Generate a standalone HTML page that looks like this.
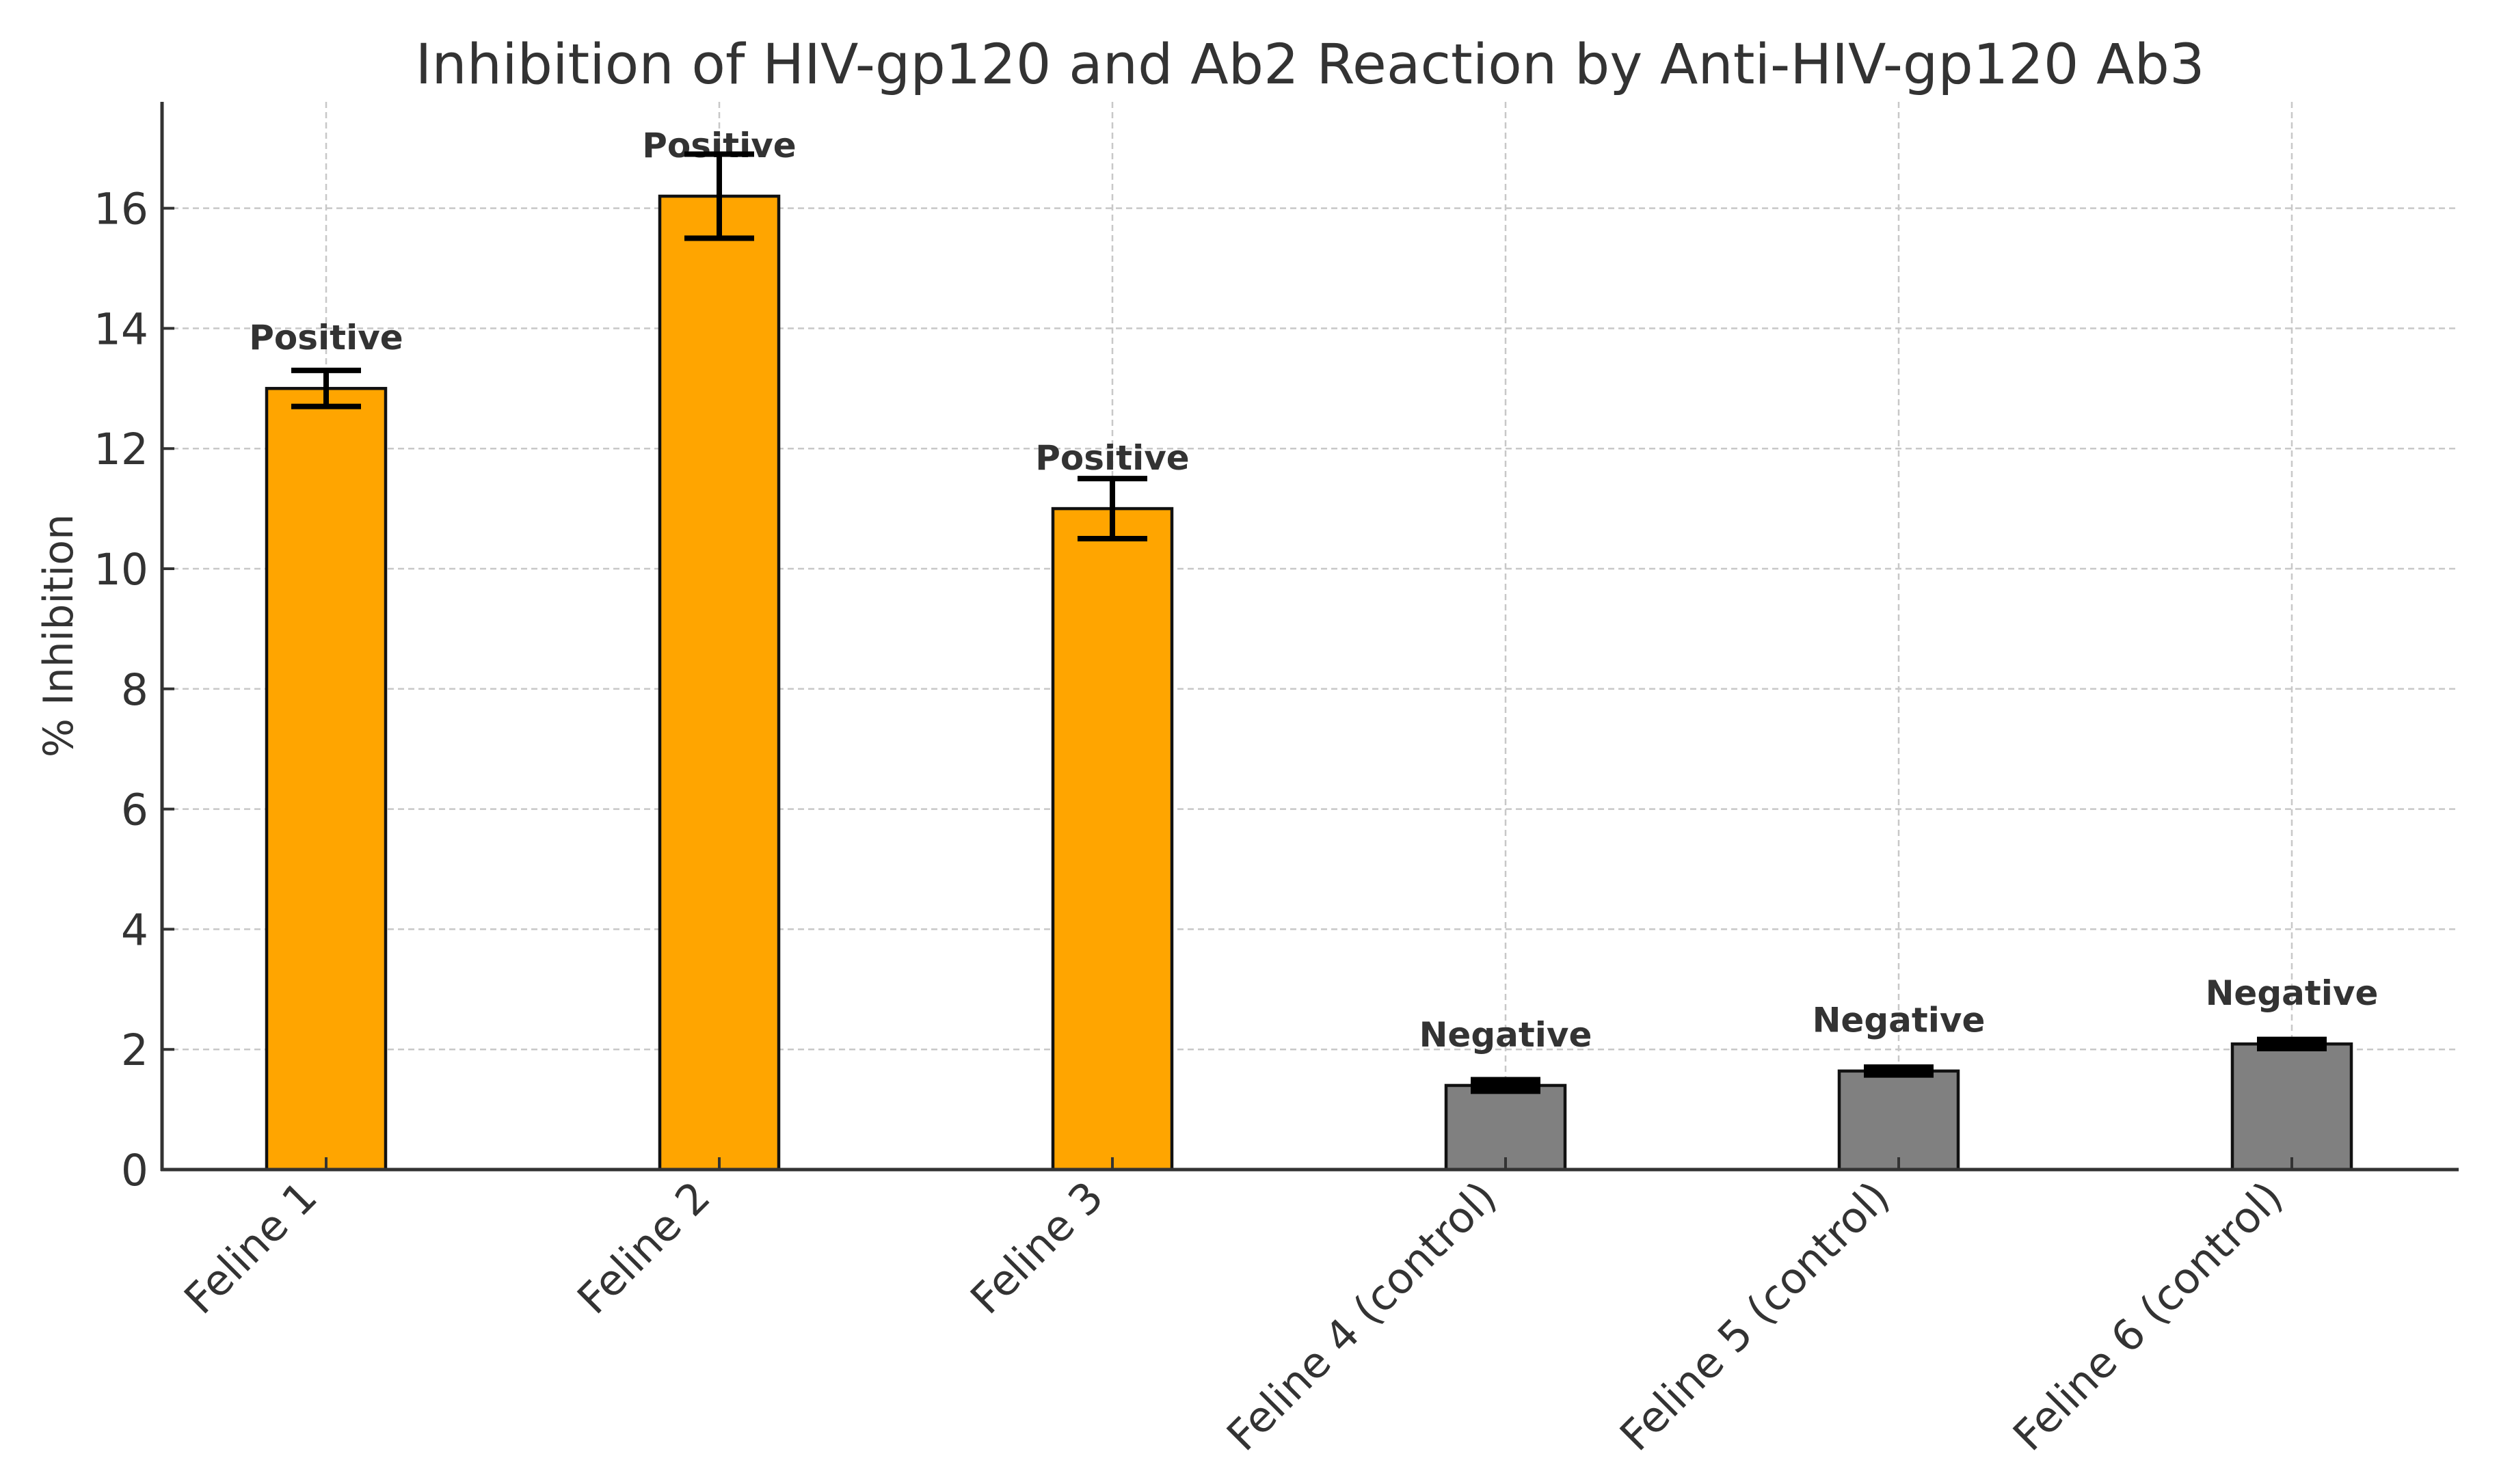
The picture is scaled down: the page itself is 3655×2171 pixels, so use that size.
<!DOCTYPE html>
<html><head><meta charset="utf-8"><title>Inhibition chart</title>
<style>html,body{margin:0;padding:0;background:#fff}svg{display:block}</style></head>
<body>
<svg id="chart" xmlns="http://www.w3.org/2000/svg" width="3655" height="2171" viewBox="0 0 3655 2171" font-family="'DejaVu Sans','Liberation Sans',sans-serif">
<rect width="3655" height="2171" fill="#fff"/>
<text x="1916" y="122" text-anchor="middle" font-size="81" fill="#333">Inhibition of HIV-gp120 and Ab2 Reaction by Anti-HIV-gp120 Ab3</text>
<text transform="translate(106,930) rotate(-90)" text-anchor="middle" font-size="60" fill="#333">% Inhibition</text>
<g id="grid"></g><g id="bars"></g><g id="labels"></g><g id="errs"></g><g id="axes"></g>
</svg>
<script>
const categories = ["Feline 1","Feline 2","Feline 3","Feline 4 (control)","Feline 5 (control)","Feline 6 (control)"];
const values = [13.0, 16.2, 11.0, 1.4, 1.64, 2.09];
const errors = [0.3, 0.7, 0.5, 0.09, 0.06, 0.07];
const results = ["Positive","Positive","Positive","Negative","Negative","Negative"];
const yTicks = [0,2,4,6,8,10,12,14,16];

const NS="http://www.w3.org/2000/svg";
const L=237,R=3596,T=149,B=1711,yMax=17.77;
const step=575, x0=477, bw=174;
const xs=i=>x0+i*step;
const ys=v=>B-(v/yMax)*(B-T);
function mk(tag,attrs,parent){const e=document.createElementNS(NS,tag);for(const k in attrs)e.setAttribute(k,attrs[k]);parent.appendChild(e);return e;}
const grid=document.getElementById('grid'),bars=document.getElementById('bars'),labels=document.getElementById('labels'),errs=document.getElementById('errs'),axes=document.getElementById('axes');

yTicks.forEach(t=>{
  const g=mk('line',{x1:L,x2:R,y1:ys(t),y2:ys(t),stroke:'#c8c8c8','stroke-width':2.5,'stroke-dasharray':'9 6'},grid);
  
  
  const tk=mk('line',{x1:L,x2:L+18,y1:ys(t),y2:ys(t),stroke:'#333','stroke-width':4},axes);
  
  
  const lb=mk('text',{x:217,y:ys(t)+23,'text-anchor':'end','font-size':63,fill:'#333'},axes);
  lb.textContent=t;
  
  
});
categories.forEach((c,i)=>{
  const x=xs(i);
  const g=mk('line',{x1:x,x2:x,y1:T,y2:B,stroke:'#c8c8c8','stroke-width':2.5,'stroke-dasharray':'9 6'},grid);
  
  
  const col=i<3?'#FFA500':'#808080';
  const b=mk('rect',{x:x-bw/2,y:ys(values[i]),width:bw,height:B-ys(values[i]),fill:col,stroke:'#111','stroke-width':4.5},bars);
  
  
  const lb=mk('text',{x:x,y:ys(values[i]+0.65),'text-anchor':'middle','font-size':50,'font-weight':'bold',fill:'#333'},labels);
  lb.textContent=results[i];
  
  
  const eg=mk('g',{stroke:'#000','stroke-width':8},errs);
  
  
  const hi=ys(values[i]+errors[i]),lo=ys(values[i]-errors[i]);
  const capW=(hi-lo)>-20?9:8;
  mk('line',{x1:x,x2:x,y1:hi,y2:lo},eg);
  mk('line',{x1:x-51,x2:x+51,y1:hi,y2:hi,'stroke-width':capW},eg);
  mk('line',{x1:x-51,x2:x+51,y1:lo,y2:lo,'stroke-width':capW},eg);
  if(lo-hi<20){mk('rect',{x:x-51,y:hi,width:102,height:lo-hi,fill:'#000',stroke:'none'},eg);}
  const tk=mk('line',{x1:x,x2:x,y1:B,y2:B-18,stroke:'#333','stroke-width':4},axes);
  
  
  const xl=mk('text',{transform:`translate(${x-10},1755) rotate(-45)`,'text-anchor':'end','font-size':62,fill:'#333'},axes);
  xl.textContent=c;
  
  
});
const ya=mk('line',{x1:L,x2:L,y1:T,y2:B+2,stroke:'#333','stroke-width':5},axes);


const xa=mk('line',{x1:L-2,x2:R,y1:B,y2:B,stroke:'#333','stroke-width':5},axes);


</script>
</body></html>
